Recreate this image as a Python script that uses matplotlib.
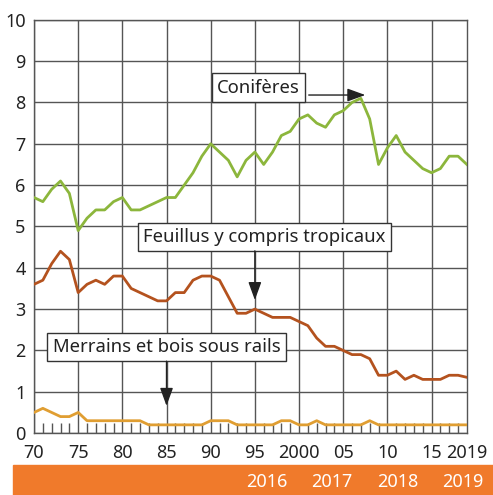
import numpy as np
import matplotlib.pyplot as plt
from matplotlib.patches import Rectangle

plt.rcParams["font.family"] = ["Noto Sans", "DejaVu Sans"]

years = np.arange(1970, 2020)

coniferes = [5.7, 5.6, 5.9, 6.1, 5.8, 4.9, 5.2, 5.4, 5.4, 5.6,
             5.7, 5.4, 5.4, 5.5, 5.6, 5.7, 5.7, 6.0, 6.3, 6.7,
             7.0, 6.8, 6.6, 6.2, 6.6, 6.8, 6.5, 6.8, 7.2, 7.3,
             7.6, 7.7, 7.5, 7.4, 7.7, 7.8, 8.0, 8.1, 7.6, 6.5,
             6.9, 7.2, 6.8, 6.6, 6.4, 6.3, 6.4, 6.7, 6.7, 6.5]

feuillus = [3.6, 3.7, 4.1, 4.4, 4.2, 3.4, 3.6, 3.7, 3.6, 3.8,
            3.8, 3.5, 3.4, 3.3, 3.2, 3.2, 3.4, 3.4, 3.7, 3.8,
            3.8, 3.7, 3.3, 2.9, 2.9, 3.0, 2.9, 2.8, 2.8, 2.8,
            2.7, 2.6, 2.3, 2.1, 2.1, 2.0, 1.9, 1.9, 1.8, 1.4,
            1.4, 1.5, 1.3, 1.4, 1.3, 1.3, 1.3, 1.4, 1.4, 1.35]

merrains = [0.5, 0.6, 0.5, 0.4, 0.4, 0.5, 0.3, 0.3, 0.3, 0.3,
            0.3, 0.3, 0.3, 0.2, 0.2, 0.2, 0.2, 0.2, 0.2, 0.2,
            0.3, 0.3, 0.3, 0.2, 0.2, 0.2, 0.2, 0.2, 0.3, 0.3,
            0.2, 0.2, 0.3, 0.2, 0.2, 0.2, 0.2, 0.2, 0.3, 0.2,
            0.2, 0.2, 0.2, 0.2, 0.2, 0.2, 0.2, 0.2, 0.2, 0.2]

xtick_pos = [1970, 1975, 1980, 1985, 1990, 1995, 2000, 2005, 2010, 2015, 2019]
xtick_labels = ["70", "75", "80", "85", "90", "95", "2000", "05", "10", "15", "2019"]
band_years = ["2016", "2017", "2018", "2019"]

grid_col = "#555555"
txt_col = "#222222"

fig = plt.figure(figsize=(4.93, 4.95), dpi=100)
ax = fig.add_axes([0.069, 0.125, 0.878, 0.835])

# grid
for y in range(0, 11):
    ax.axhline(y, color=grid_col, lw=1.0, zorder=1)
for x in range(1970, 2016, 5):
    ax.axvline(x, color=grid_col, lw=1.0, zorder=1)

ax.plot(years, coniferes, color="#8cb63c", lw=2.0, zorder=3)
ax.plot(years, feuillus, color="#b4521e", lw=2.0, zorder=3)
ax.plot(years, merrains, color="#e09e32", lw=2.0, zorder=3)

ax.set_xlim(1970, 2019)
ax.set_ylim(0, 10)
for s in ax.spines.values():
    s.set_color(grid_col)
    s.set_linewidth(1.0)

ax.set_yticks(range(0, 11))
ax.tick_params(axis="y", length=0, pad=6, labelsize=13, labelcolor=txt_col)
ax.set_xticks(xtick_pos)
ax.set_xticklabels(xtick_labels)
ax.set_xticks(years, minor=True)
ax.tick_params(axis="x", which="major", length=0, pad=8, labelsize=13, labelcolor=txt_col)
ax.tick_params(axis="x", which="minor", direction="in", length=7, width=1.0, color=grid_col)

box = dict(boxstyle="square,pad=0.28", fc="white", ec="#333333", lw=1.0)
arrow = dict(arrowstyle="-|>,head_length=11,head_width=4", color=txt_col,
             lw=1.0, mutation_scale=1, shrinkA=0, shrinkB=0)

ax.text(1995.4, 8.36, "Conifères", ha="center", va="center", fontsize=13.3,
        color=txt_col, bbox=box, zorder=5)
ax.annotate("", xy=(2007.5, 8.18), xytext=(2001.1, 8.18), arrowprops=arrow, zorder=5)

ax.text(1996.1, 4.75, "Feuillus y compris tropicaux", ha="center", va="center",
        fontsize=13.3, color=txt_col, bbox=box, zorder=5)
ax.annotate("", xy=(1995, 3.22), xytext=(1995, 4.41), arrowprops=arrow, zorder=5)

ax.text(1985.0, 2.08, "Merrains et bois sous rails", ha="center", va="center",
        fontsize=13.3, color=txt_col, bbox=box, zorder=5)
ax.annotate("", xy=(1985, 0.66), xytext=(1985, 1.74), arrowprops=arrow, zorder=5)

# orange band at bottom
fig.patches.append(Rectangle((0.026, 0.0), 0.974, 0.0606, transform=fig.transFigure,
                             color="#f07a2b", zorder=0))
for xc, lab in zip([0.5416, 0.673, 0.807, 0.939], band_years):
    fig.text(xc, 0.026, lab, ha="center", va="center", color="white",
             fontsize=13, fontweight="bold")

fig.savefig("out.png", dpi=100)
